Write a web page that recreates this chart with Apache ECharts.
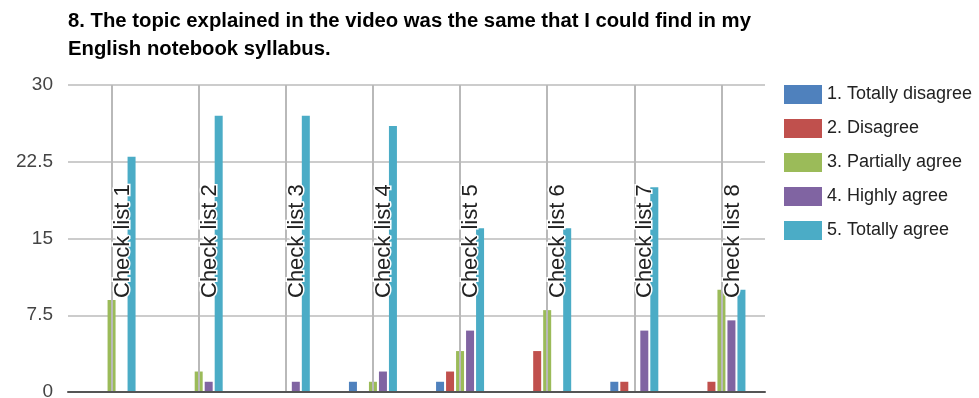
<!DOCTYPE html>
<html>
<head>
<meta charset="utf-8">
<script src="https://cdn.jsdelivr.net/npm/echarts@6/dist/echarts.min.js"></script>
<style>
  html, body { margin: 0; padding: 0; background: #fff; }
  #chart { width: 979px; height: 398px; }
</style>
</head>
<body>
<div id="chart"></div>
<script>
// Survey question 8: answer counts per checklist
const titleText = '8. The topic explained in the video was the same that I could find in my\nEnglish notebook syllabus.';
const categories = ['Check list 1', 'Check list 2', 'Check list 3', 'Check list 4',
                    'Check list 5', 'Check list 6', 'Check list 7', 'Check list 8'];
const seriesNames = ['1. Totally disagree', '2. Disagree', '3. Partially agree', '4. Highly agree', '5. Totally agree'];
const totallyDisagree = [0, 0, 0, 1, 1, 0, 1, 0];
const disagree        = [0, 0, 0, 0, 2, 4, 1, 1];
const partiallyAgree  = [9, 2, 0, 1, 4, 8, 0, 10];
const highlyAgree     = [0, 1, 1, 2, 6, 0, 6, 7];
const totallyAgree    = [23, 27, 27, 26, 16, 16, 20, 10];
const yTicks = { min: 0, max: 30, interval: 7.5 };

const colors = ['#4F81BD', '#C0504D', '#9BBB59', '#8064A2', '#4BACC6'];
const values = [totallyDisagree, disagree, partiallyAgree, highlyAgree, totallyAgree];

const series = seriesNames.map((name, i) => ({
  name: name,
  type: 'bar',
  data: values[i],
  barWidth: 8,
  barGap: '25%',
  itemStyle: { color: colors[i] },
  z: 2
}));

// vertical guide line through the middle of every category
series.push({
  name: 'category guides',
  type: 'line',
  data: [],
  silent: true,
  z: 1,
  markLine: {
    silent: true,
    symbol: 'none',
    animation: false,
    label: { show: false },
    lineStyle: { color: '#b9b9b9', width: 2, type: 'solid' },
    data: categories.map(c => ({ xAxis: c }))
  }
});

const chart = echarts.init(document.getElementById('chart'), null, { renderer: 'canvas' });
chart.setOption({
  animation: false,
  color: colors,
  title: {
    text: titleText,
    left: 68,
    top: 7,
    padding: 0,
    textStyle: {
      fontFamily: '"Liberation Sans", Arial, sans-serif',
      fontWeight: 'bold',
      fontSize: 20.3,
      lineHeight: 28,
      color: '#000'
    }
  },
  legend: {
    orient: 'vertical',
    left: 784,
    top: 85,
    padding: 0,
    itemWidth: 38,
    itemHeight: 19,
    itemGap: 15,
    icon: 'rect',
    data: seriesNames,
    textStyle: { fontFamily: '"Liberation Sans", Arial, sans-serif', fontSize: 18, color: '#222' }
  },
  grid: { left: 68, right: 214, top: 85, bottom: 6, containLabel: false, outerBoundsMode: 'none' },
  xAxis: {
    type: 'category',
    data: categories,
    z: 5,
    axisLine: { show: true, lineStyle: { color: '#555', width: 2 } },
    axisTick: { show: false },
    splitLine: { show: false },
    axisLabel: {
      inside: true,
      rotate: 90,
      margin: 94,
      verticalAlign: 'top',
      interval: 0,
      fontFamily: '"Liberation Sans", Arial, sans-serif',
      fontSize: 22,
      color: '#222',
      textBorderColor: '#fff',
      textBorderWidth: 3
    }
  },
  yAxis: {
    type: 'value',
    min: yTicks.min,
    max: yTicks.max,
    interval: yTicks.interval,
    axisLine: { show: false },
    axisTick: { show: false },
    splitLine: { lineStyle: { color: '#cccccc', width: 2 } },
    axisLabel: {
      margin: 15,
      fontFamily: '"Liberation Sans", Arial, sans-serif',
      fontSize: 19,
      color: '#444'
    }
  },
  series: series
});
</script>
</body>
</html>
